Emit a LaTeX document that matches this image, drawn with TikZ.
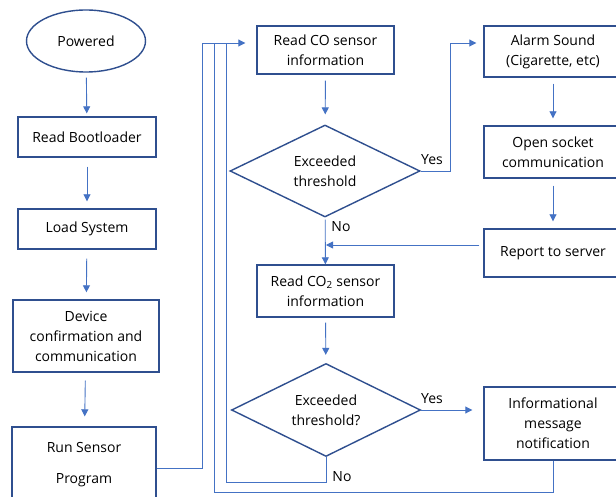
\documentclass[tikz,border=0pt]{standalone}
\usepackage{fontspec}
\setmainfont{Open Sans}
\usetikzlibrary{shapes.geometric,arrows.meta,calc}
\definecolor{boxc}{HTML}{2F4F8F}
\definecolor{linec}{HTML}{4472C4}
\tikzset{
  box/.style={draw=boxc,line width=1.4pt,fill=white,rectangle,align=center,inner sep=2pt,font=\fontsize{14}{20}\selectfont},
  dia/.style={draw=boxc,line width=1.4pt,fill=white,diamond,aspect=2,inner sep=0pt,align=center,font=\fontsize{14}{20}\selectfont},
  conn/.style={draw=linec,line width=0.9pt},
  arr/.style={conn,-{Triangle[length=7pt,width=7pt]}},
  lbl/.style={font=\fontsize{14}{16}\selectfont,inner sep=0pt}
}
\begin{document}
\begin{tikzpicture}[x=1pt,y=-1pt]
\clip (0,0) rectangle (616,497);
\fill[white] (0,0) rectangle (616,497);
% left column
\node[box,ellipse,minimum width=119pt,minimum height=62pt] (powered) at (86,41) {Powered};
\node[box,minimum width=138pt,minimum height=40pt] (boot) at (87,137) {Read Bootloader};
\node[box,minimum width=138pt,minimum height=40pt] (load) at (87,229) {Load System};
\node[box,minimum width=146pt,minimum height=72pt] (device) at (86,336) {Device\\confirmation and\\communication};
\node[box,minimum width=144pt,minimum height=75pt] (run) at (84,464.5) {Run Sensor\\[11pt]Program};
% middle column
\node[box,minimum width=137pt,minimum height=48pt] (co) at (325.5,50) {Read CO sensor\\information};
\node[dia,minimum width=190pt,minimum height=92pt] (d1) at (325,171) {Exceeded\\threshold};
\node[box,minimum width=137pt,minimum height=52pt] (co2) at (325.5,291) {Read CO\textsubscript{2} sensor\\information};
\node[dia,minimum width=189pt,minimum height=93pt] (d2) at (326,410) {Exceeded\\threshold?};
% right column
\node[box,minimum width=138pt,minimum height=51pt] (alarm) at (553,51.5) {Alarm Sound\\(Cigarette, etc)};
\node[box,minimum width=138pt,minimum height=52pt] (socket) at (553,152) {Open socket\\communication};
\node[box,minimum width=138pt,minimum height=48pt] (report) at (553,253) {Report to server};
\node[box,minimum width=138pt,minimum height=73pt] (info) at (553,423.5) {Informational\\message\\notification};
% straight arrows
\draw[arr,shorten <=5pt,shorten >=3pt] (powered) -- (boot);
\draw[arr,shorten <=9pt,shorten >=7pt] (boot) -- (load);
\draw[arr,shorten <=9pt,shorten >=7pt] (load) -- (device);
\draw[arr,shorten <=8pt,shorten >=10pt] (device) -- (run);
\draw[arr,shorten <=6pt,shorten >=10pt] (co) -- (d1);
\draw[arr,shorten <=2pt] (d1) -- (co2);
\draw[arr,shorten <=5pt,shorten >=8pt] (co2) -- (d2);
\draw[arr,shorten <=6pt,shorten >=7pt] (alarm) -- (socket);
\draw[arr,shorten <=7pt,shorten >=7pt] (socket) -- (report);
% loops
\coordinate (cin) at ($(co.west)+(0,-7)$);
\draw[arr,shorten >=11pt] ($(run.east)+(0,3.5)$) -- (202,468) -- (202,43) -- (cin);
\draw[conn] (d2.south) -- (326,482) -- (226,482) -- (226,43);
\draw[conn] (info.south) -- (553,492) -- (214,492) -- (214,43);
\coordinate (ain) at ($(alarm.west)+(0,-8.5)$);
\draw[arr,shorten >=7pt] (d1.east) -- (450,171) -- (450,43) -- (ain);
\coordinate (rout) at ($(report.west)+(0,-8)$);
\draw[arr,shorten <=4pt] (rout) -- (326,245);
\coordinate (iin) at (d2.east -| info.west);
\draw[arr,shorten >=11pt] (d2.east) -- (iin);
% labels
\node[lbl] (yes1) at (432,160) {Yes};
\node[lbl] (no1) at (341,227) {No};
\node[lbl] (yes2) at (432,399) {Yes};
\node[lbl] (no2) at (342,477) {No};
\end{tikzpicture}
\end{document}
